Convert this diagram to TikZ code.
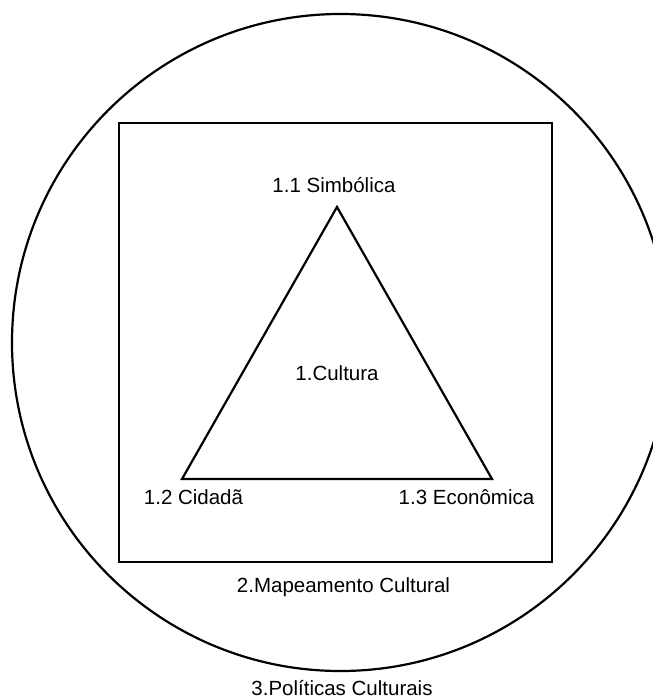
\documentclass[tikz,border=0pt]{standalone}
\usepackage{fontspec}
\setmainfont{Liberation Sans}
\begin{document}
\begin{tikzpicture}[x=1pt,y=-1pt,
  lbl/.style={inner sep=0pt,anchor=base,font=\fontsize{20.5}{24}\selectfont},
  shape line/.style={line width=2.2pt,line join=miter}]
\useasboundingbox (0,0) rectangle (653,699);
\begin{scope}
\clip (0,0) rectangle (653,699);
\draw[shape line] (340.5,342.5) circle[radius=328.5];
\end{scope}
\draw[shape line] (119,123) rectangle (552,562);
\coordinate (apex) at (337,207);
\coordinate (bl) at (182,479);
\coordinate (br) at (492,479);
\draw[shape line] (apex) -- (bl) -- (br) -- cycle;
\node[lbl] (s) at (334,192) {1.1 Simbólica};
\node[lbl] (c) at (337,380) {1.Cultura};
\node[lbl] (cid) at (193.5,504) {1.2 Cidadã};
\node[lbl] (eco) at (466.5,504) {1.3 Econômica};
\node[lbl] (map) at (343.5,592) {2.Mapeamento Cultural};
\node[lbl] (pol) at (342,695) {3.Políticas Culturais};
\end{tikzpicture}
\end{document}
